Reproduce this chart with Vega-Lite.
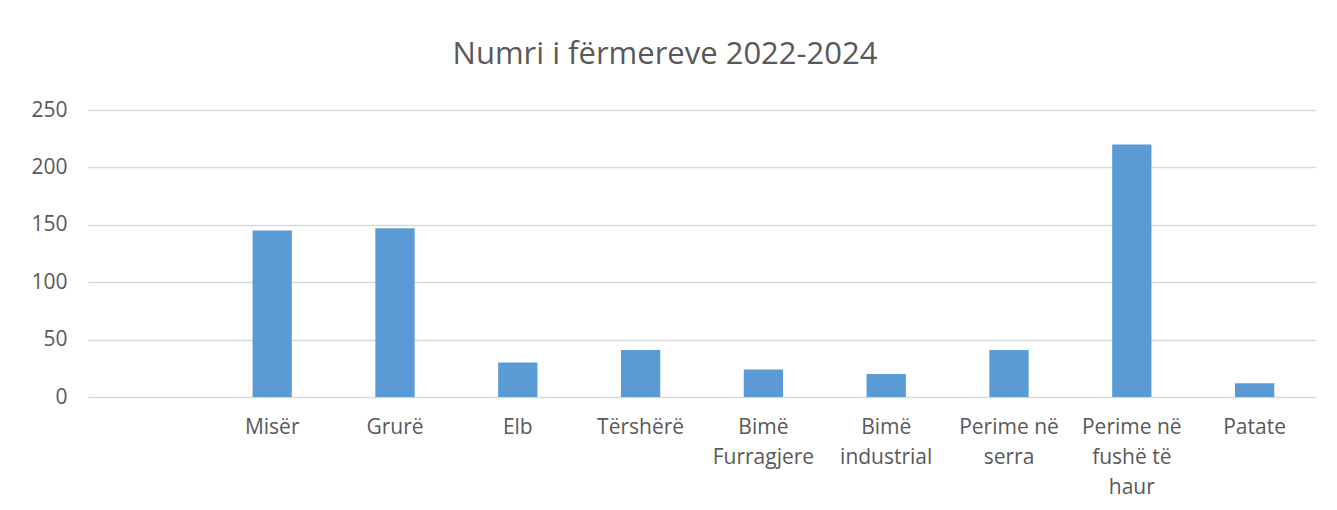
{
  "$schema": "https://vega.github.io/schema/vega-lite/v6.json",
  "autosize": {"type": "none"},
  "width": 1228,
  "height": 287,
  "padding": {"left": 88, "top": 110, "right": 21, "bottom": 113},
  "background": "white",
  "title": {
    "text": "Numri i fërmereve 2022-2024",
    "font": "Open Sans",
    "fontSize": 31,
    "fontWeight": "normal",
    "color": "#595959",
    "anchor": "middle",
    "frame": "group",
    "dx": -37,
    "offset": 28
  },
  "data": {
    "values": [
      {"kultura": "Misër", "fermere": 145},
      {"kultura": "Grurë", "fermere": 147},
      {"kultura": "Elb", "fermere": 30},
      {"kultura": "Tërshërë", "fermere": 41},
      {"kultura": "Bimë Furragjere", "fermere": 24},
      {"kultura": "Bimë industrial", "fermere": 20},
      {"kultura": "Perime në serra", "fermere": 41},
      {"kultura": "Perime në fushë të haur", "fermere": 220},
      {"kultura": "Patate", "fermere": 12}
    ]
  },
  "mark": {"type": "bar", "color": "#5B9BD5"},
  "encoding": {
    "x": {
      "field": "kultura",
      "type": "nominal",
      "sort": null,
      "scale": {
        "domain": [" ", "Misër", "Grurë", "Elb", "Tërshërë", "Bimë Furragjere", "Bimë industrial", "Perime në serra", "Perime në fushë të haur", "Patate"],
        "paddingInner": 0.68,
        "paddingOuter": 0.34
      },
      "axis": {
        "title": null,
        "domain": false,
        "ticks": false,
        "labelAngle": 0,
        "labelFont": "Open Sans",
        "labelFontSize": 21,
        "labelColor": "#595959",
        "labelPadding": 19,
        "labelLineHeight": 30,
        "labelBaseline": "top",
        "labelExpr": "datum.label == 'Bimë Furragjere' ? ['Bimë', 'Furragjere'] : datum.label == 'Bimë industrial' ? ['Bimë', 'industrial'] : datum.label == 'Perime në serra' ? ['Perime në', 'serra'] : datum.label == 'Perime në fushë të haur' ? ['Perime në', 'fushë të', 'haur'] : datum.label"
      }
    },
    "y": {
      "field": "fermere",
      "type": "quantitative",
      "scale": {"domain": [0, 250], "nice": false},
      "axis": {
        "title": null,
        "values": [0, 50, 100, 150, 200, 250],
        "domain": false,
        "ticks": false,
        "labelFont": "Open Sans",
        "labelFontSize": 21,
        "labelColor": "#595959",
        "labelPadding": 21,
        "grid": true,
        "gridColor": "#D9D9D9",
        "gridWidth": 1.5
      }
    }
  },
  "config": {
    "view": {"stroke": null}
  }
}
